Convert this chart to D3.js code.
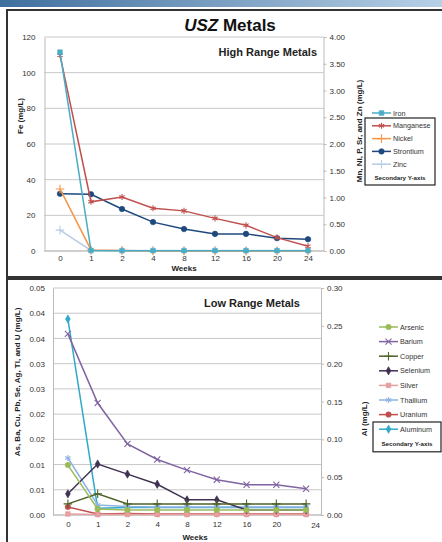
<!DOCTYPE html>
<html>
<head>
<meta charset="utf-8">
<script src="https://cdn.jsdelivr.net/npm/d3@7"></script>
<style>
  body { margin: 0; background: #fff; }
  svg { display: block; font-family: "Liberation Sans", Arial, sans-serif; }
</style>
</head>
<body>
<svg width="442" height="542"></svg>
<script>
const weeks = ['0', '1', '2', '4', '8', '12', '16', '20', '24'];

// high range metals (Fe on the left axis, the rest on the secondary axis)
const iron = [111.5, 0.3, 0.2, 0.2, 0.2, 0.2, 0.2, 0.2, 0.2];
const manganese = [3.66, 0.92, 1.01, 0.80, 0.75, 0.61, 0.48, 0.25, 0.09];
const nickel = [1.16, 0.02, 0.01, 0, 0, 0, 0, 0, 0];
const strontium = [1.07, 1.06, 0.785, 0.54, 0.41, 0.32, 0.32, 0.24, 0.22];
const zinc = [0.39, 0.01, 0.01, 0.01, 0.01, 0.01, 0.01, 0.01, 0.01];
const highLeftTicks = [0, 20, 40, 60, 80, 100, 120];
const highRightTicks = [0, 0.5, 1, 1.5, 2, 2.5, 3, 3.5, 4];

// low range metals (Al on the secondary axis)
const arsenic = [0.0099, 0.0012, 0.0010, 0.0010, 0.0010, 0.0010, 0.0010, 0.0010, 0.0010];
const barium = [0.0359, 0.0222, 0.0141, 0.0110, 0.0089, 0.0070, 0.0060, 0.0060, 0.0052];
const copper = [0.0022, 0.0042, 0.0022, 0.0022, 0.0022, 0.0022, 0.0022, 0.0022, 0.0022];
const selenium = [0.0042, 0.0101, 0.0081, 0.0061, 0.0030, 0.0030, 0.0010, 0.0010, 0.0010];
const silver = [0.0002, 0.0001, 0.0001, 0.0001, 0.0001, 0.0001, 0.0001, 0.0001, 0.0001];
const thallium = [0.0113, 0.0020, 0.0017, 0.0016, 0.0016, 0.0016, 0.0016, 0.0016, 0.0016];
const uranium = [0.0016, 0.0002, 0.0003, 0.0002, 0.0002, 0.0002, 0.0002, 0.0002, 0.0002];
const aluminum = [0.259, 0.009, 0.010, 0.010, 0.010, 0.010, 0.010, 0.010, 0.010];
const lowLeftTicks = [0, 0.005, 0.01, 0.015, 0.02, 0.025, 0.03, 0.035, 0.04, 0.045];
const lowLeftTickLabels = ['0.00', '0.01', '0.01', '0.02', '0.02', '0.03', '0.03', '0.04', '0.04', '0.05'];
const lowRightTicks = [0, 0.05, 0.1, 0.15, 0.2, 0.25, 0.3];

const svg = d3.select('svg');

// banner strip at the very top
const grad = svg.append('defs').append('linearGradient').attr('id', 'banner');
grad.append('stop').attr('offset', '0%').attr('stop-color', '#3f6f9e');
grad.append('stop').attr('offset', '100%').attr('stop-color', '#b7d0e6');
svg.append('rect').attr('x', 0).attr('y', 0).attr('width', 442).attr('height', 7).attr('fill', 'url(#banner)');

// panel frames
svg.append('rect').attr('x', 7).attr('y', 10).attr('width', 440).attr('height', 267)
  .attr('fill', 'none').attr('stroke', '#333').attr('stroke-width', 2);
svg.append('rect').attr('x', 7).attr('y', 279).attr('width', 440).attr('height', 270)
  .attr('fill', 'none').attr('stroke', '#333').attr('stroke-width', 2);

const symbols = {
  square: d3.symbolSquare, circle: d3.symbolCircle, diamond: d3.symbolDiamond,
  star: d3.symbolAsterisk, times: d3.symbolTimes, plus: d3.symbolPlus
};

function marker(g, type, color, x, y) {
  const filled = ['square', 'circle', 'diamond'].includes(type);
  const size = type === 'circle' ? 24 : type === 'diamond' ? 20 : type === 'square' ? 22 : 26;
  g.append('path')
    .attr('d', d3.symbol(symbols[type], size)())
    .attr('transform', `translate(${x},${y})`)
    .attr('fill', filled ? color : 'none')
    .attr('stroke', color)
    .attr('stroke-width', filled ? 0.6 : 1.1);
}

function drawPanel(p) {
  const g = svg.append('g');
  const x = d3.scalePoint().domain(weeks).range([p.left, p.right]).padding(0.5);
  const yL = d3.scaleLinear().domain([0, p.leftMax]).range([p.bottom, p.top]);
  const yR = d3.scaleLinear().domain([0, p.rightMax]).range([p.bottom, p.top]);

  // gridlines
  g.selectAll('.grid').data(p.leftTicks).enter().append('line')
    .attr('x1', p.left).attr('x2', p.right)
    .attr('y1', d => yL(d)).attr('y2', d => yL(d))
    .attr('stroke', '#c8c8c8').attr('stroke-width', 1);

  // left axis
  const la = g.append('g').attr('transform', `translate(${p.left},0)`)
    .call(d3.axisLeft(yL).tickValues(p.leftTicks).tickSize(0).tickPadding(p.leftPad)
      .tickFormat((d, i) => p.leftLabels ? p.leftLabels[i] : d));
  la.select('.domain').attr('stroke', '#bbb');
  la.selectAll('text').attr('font-size', 8).attr('fill', '#333');

  // right axis
  const ra = g.append('g').attr('transform', `translate(${p.right},0)`)
    .call(d3.axisRight(yR).tickValues(p.rightTicks).tickSize(3).tickPadding(3)
      .tickFormat(d3.format('.2f')));
  ra.select('.domain').attr('stroke', '#bbb');
  ra.selectAll('line').attr('stroke', '#bbb');
  ra.selectAll('text').attr('font-size', 8).attr('fill', '#333');

  // bottom axis
  const ba = g.append('g').attr('transform', `translate(0,${p.bottom})`)
    .call(d3.axisBottom(x).tickSize(0).tickPadding(p.xPad));
  ba.select('.domain').attr('stroke', '#bbb').attr('d', `M${p.left},0H${p.right}`);
  ba.selectAll('text').attr('font-size', 8).attr('fill', '#333')
    .attr('dx', d => d === '24' ? p.lastShift : 0)
    .attr('dy', d => d === '24' && p.lastShift ? '0.85em' : '0.71em');

  g.append('text').attr('x', p.weeksX).attr('y', p.bottom + p.weeksDy).attr('text-anchor', 'middle')
    .attr('font-size', 8).attr('font-weight', 'bold').attr('fill', '#222').text('Weeks');

  // axis titles
  g.append('text').attr('transform', `translate(${p.leftTitleX},${p.leftTitleY}) rotate(-90)`)
    .attr('text-anchor', 'middle').attr('font-size', 8).attr('font-weight', 'bold')
    .attr('fill', '#222').text(p.leftTitle);
  g.append('text').attr('transform', `translate(${p.rightTitleX},${p.rightTitleY}) rotate(-90)`)
    .attr('text-anchor', 'middle').attr('font-size', 8).attr('font-weight', 'bold')
    .attr('fill', '#222').text(p.rightTitle);

  g.append('text').attr('x', p.subX).attr('y', p.subY).attr('text-anchor', 'end')
    .attr('font-size', 11).attr('font-weight', 'bold').attr('fill', '#222').text(p.subtitle);

  // series, drawn back to front
  p.series.slice().reverse().forEach(s => {
    const y = s.axis === 'right' ? yR : yL;
    const line = d3.line().x((d, i) => x(weeks[i])).y(d => y(d));
    g.append('path').datum(s.values).attr('d', line)
      .attr('fill', 'none').attr('stroke', s.color).attr('stroke-width', 1.5);
    s.values.forEach((v, i) => marker(g, s.marker, s.color, x(weeks[i]), y(v)));
  });

  // legend
  const lg = g.append('g');
  p.series.forEach((s, i) => {
    const ly = p.legendY + i * p.legendStep;
    lg.append('line').attr('x1', p.legendX).attr('x2', p.legendX + 19)
      .attr('y1', ly).attr('y2', ly).attr('stroke', s.color).attr('stroke-width', 1.5);
    marker(lg, s.marker, s.color, p.legendX + 9.5, ly);
    lg.append('text').attr('x', p.legendX + 21).attr('y', ly + 2.6)
      .attr('font-size', 7.2).attr('fill', '#333').text(s.name);
  });
  const sy = p.legendY + p.series.length * p.legendStep;
  lg.append('text').attr('x', p.boxX + p.boxW / 2).attr('y', sy + 2.5).attr('text-anchor', 'middle')
    .attr('font-size', 6.2).attr('font-weight', 'bold').attr('fill', '#222').text('Secondary Y-axis');
  lg.append('rect').attr('x', p.boxX).attr('y', p.boxY).attr('width', p.boxW).attr('height', sy + 8 - p.boxY)
    .attr('fill', 'none').attr('stroke', '#222').attr('stroke-width', 1.2);
}

// title
svg.append('text').attr('x', 230).attr('y', 31).attr('text-anchor', 'middle')
  .attr('font-size', 17).attr('font-weight', 'bold').attr('fill', '#111')
  .call(t => {
    t.append('tspan').attr('font-style', 'italic').text('USZ');
    t.append('tspan').text(' Metals');
  });

drawPanel({
  left: 44.5, right: 323.5, top: 37, bottom: 251,
  leftMax: 120, rightMax: 4, leftTicks: highLeftTicks, rightTicks: highRightTicks,
  leftPad: 9, xPad: 4, lastShift: 0, weeksX: 184, weeksDy: 20,
  leftTitle: 'Fe (mg/L)', leftTitleX: 23, leftTitleY: 116,
  rightTitle: 'Mn, Ni, P, Sr, and Zn (mg/L)', rightTitleX: 362, rightTitleY: 131,
  subtitle: 'High Range Metals', subX: 317, subY: 56,
  legendX: 372, legendY: 113, legendStep: 12.8,
  boxX: 365, boxY: 118, boxW: 70,
  series: [
    { name: 'Iron', values: iron, axis: 'left', color: '#4bacc6', marker: 'square' },
    { name: 'Manganese', values: manganese, axis: 'right', color: '#c0504d', marker: 'star' },
    { name: 'Nickel', values: nickel, axis: 'right', color: '#f79646', marker: 'plus' },
    { name: 'Strontium', values: strontium, axis: 'right', color: '#1f497d', marker: 'circle' },
    { name: 'Zinc', values: zinc, axis: 'right', color: '#b9cde5', marker: 'plus' }
  ]
});

drawPanel({
  left: 53, right: 321, top: 288, bottom: 515,
  leftMax: 0.045, rightMax: 0.3, leftTicks: lowLeftTicks, leftLabels: lowLeftTickLabels,
  rightTicks: lowRightTicks,
  leftPad: 8, xPad: 6, lastShift: 9, weeksX: 195, weeksDy: 25,
  leftTitle: 'As, Ba, Cu, Pb, Se, Ag, Tl, and U (mg/L)', leftTitleX: 20, leftTitleY: 382,
  rightTitle: 'Al (mg/L)', rightTitleX: 367, rightTitleY: 419,
  subtitle: 'Low Range Metals', subX: 300, subY: 307,
  legendX: 379, legendY: 327, legendStep: 14.6,
  boxX: 373, boxY: 422, boxW: 68,
  series: [
    { name: 'Arsenic', values: arsenic, axis: 'left', color: '#9bbb59', marker: 'circle' },
    { name: 'Barium', values: barium, axis: 'left', color: '#8064a2', marker: 'times' },
    { name: 'Copper', values: copper, axis: 'left', color: '#4f6228', marker: 'plus' },
    { name: 'Selenium', values: selenium, axis: 'left', color: '#3f3151', marker: 'diamond' },
    { name: 'Silver', values: silver, axis: 'left', color: '#e6a0a0', marker: 'square' },
    { name: 'Thallium', values: thallium, axis: 'left', color: '#8db3e2', marker: 'star' },
    { name: 'Uranium', values: uranium, axis: 'left', color: '#c0504d', marker: 'circle' },
    { name: 'Aluminum', values: aluminum, axis: 'right', color: '#31a9c9', marker: 'diamond' }
  ]
});
</script>
</body>
</html>
